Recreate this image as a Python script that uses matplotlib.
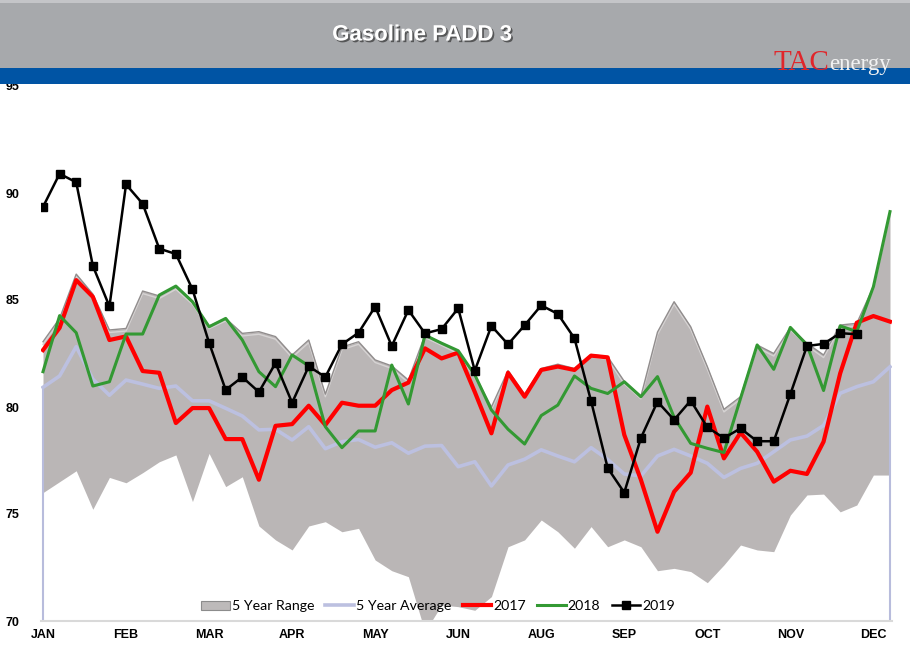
import numpy as np
import matplotlib
matplotlib.use("Agg")
import matplotlib.pyplot as plt
import matplotlib.patheffects as pe
from matplotlib.patches import Rectangle, Patch
from matplotlib.lines import Line2D

# weekly values, 52 weeks
range_hi = [83.05, 84.14, 86.21, 85.28, 83.6, 83.67, 85.42, 85.19, 85.62, 84.92,
            83.78, 84.14, 83.44, 83.52, 83.29, 82.43, 83.13, 80.6, 82.8, 83.05,
            82.2, 81.92, 81.26, 83.36, 83.0, 82.6, 81.5, 80.0, 81.7, 80.6,
            81.8, 82.0, 81.8, 82.45, 82.35, 81.2, 80.5, 83.5, 84.92, 83.75,
            81.89, 79.89, 80.48, 82.9, 82.5, 83.72, 82.98, 82.43, 83.83, 83.91,
            85.62, 89.13]
range_lo = [76.0, 76.51, 77.02, 75.22, 76.71, 76.46, 76.93, 77.44, 77.76, 75.58,
            77.83, 76.28, 76.74, 74.44, 73.79, 73.32, 74.44, 74.64, 74.17, 74.33,
            72.85, 72.35, 72.07, 69.5, 70.75, 70.67, 70.5, 71.14, 73.47, 73.79,
            74.72, 74.17, 73.4, 74.41, 73.47, 73.79, 73.47, 72.35, 72.46, 72.31,
            71.79, 72.62, 73.55, 73.32, 73.24, 74.95, 75.89, 75.93, 75.1, 75.42,
            76.82, 76.82]
avg5 = [80.92, 81.45, 82.82, 81.3, 80.55, 81.26, 81.07, 80.87, 80.98, 80.29,
        80.29, 79.94, 79.58, 78.93, 78.96, 78.46, 79.08, 78.05, 78.38, 78.48,
        78.12, 78.33, 77.84, 78.17, 78.2, 77.21, 77.44, 76.31, 77.29, 77.56,
        78.0, 77.71, 77.44, 78.1, 77.55, 76.87, 76.78, 77.71, 78.02, 77.71,
        77.37, 76.71, 77.13, 77.37, 77.91, 78.46, 78.64, 79.14, 80.64, 80.95,
        81.18, 81.88]
y2017 = [82.66, 83.7, 85.93, 85.15, 83.13, 83.3, 81.68, 81.6, 79.25, 79.95,
         79.95, 78.5, 78.5, 76.6, 79.12, 79.2, 80.06, 79.16, 80.2, 80.06,
         80.06, 80.79, 81.14, 82.74, 82.27, 82.54, 80.7, 78.77, 81.6, 80.48,
         81.73, 81.89, 81.73, 82.4, 82.32, 78.7, 76.6, 74.17, 76.04, 76.93,
         80.02, 77.6, 78.8, 77.91, 76.51, 77.02, 76.87, 78.38, 81.57, 83.94,
         84.25, 83.99]
y2018 = [81.65, 84.27, 83.47, 80.98, 81.18, 83.41, 83.41, 85.23, 85.65, 84.92,
         83.75, 84.14, 83.13, 81.65, 80.95, 82.43, 81.92, 79.08, 78.1, 78.88,
         78.88, 81.96, 80.14, 83.36, 82.98, 82.63, 81.5, 79.86, 78.96, 78.27,
         79.6, 80.09, 81.45, 80.87, 80.63, 81.18, 80.48, 81.42, 79.52, 78.3,
         78.07, 77.87, 80.4, 82.9, 81.76, 83.72, 82.9, 80.77, 83.79, 83.52,
         85.62, 89.13]
y2019 = [89.35, 90.9, 90.5, 86.6, 84.7, 90.4, 89.5, 87.4, 87.15, 85.5,
         83.0, 80.8, 81.4, 80.7, 82.05, 80.2, 81.9, 81.4, 82.93, 83.47,
         84.69, 82.85, 84.53, 83.44, 83.64, 84.61, 81.7, 83.79, 82.93, 83.82,
         84.75, 84.35, 83.21, 80.28, 77.15, 76.0, 78.55, 80.25, 79.4, 80.3,
         79.05, 78.55, 79.0, 78.4, 78.4, 80.6, 82.85, 82.95, 83.45, 83.4]
months = ["JAN", "FEB", "MAR", "APR", "MAY", "JUN", "AUG", "SEP", "OCT", "NOV", "DEC"]

W, H = 910, 659
fig = plt.figure(figsize=(W / 100, H / 100), dpi=100)
fig.patch.set_facecolor("white")

# header bands
fig.patches.append(Rectangle((0, 1 - 68 / H), 1, 68 / H, transform=fig.transFigure,
                             facecolor="#A7A9AC", edgecolor="none", zorder=0))
fig.patches.append(Rectangle((0, 1 - 3 / H), 1, 3 / H, transform=fig.transFigure,
                             facecolor="#C4C5C8", edgecolor="none", zorder=0))
fig.patches.append(Rectangle((0, 1 - 84 / H), 1, 16 / H, transform=fig.transFigure,
                             facecolor="#0054A4", edgecolor="none", zorder=0))
fig.text(422 / W, 1 - 35 / H, "Gasoline PADD 3", color="white", fontsize=16,
         fontweight="bold", family="Liberation Sans", ha="center", va="center",
         path_effects=[pe.withSimplePatchShadow(offset=(1.2, -1.2), shadow_rgbFace="#333333", alpha=0.7)])
fig.text(774 / W, 1 - 70 / H, "TAC", color="#E0262B", fontsize=21, family="Liberation Serif",
         ha="left", va="baseline")
fig.text(829 / W, 1 - 70 / H, "energy", color="#F2F2F2", fontsize=16.5, family="Liberation Serif",
         ha="left", va="baseline")

# main plot
x0 = -0.15
x1 = 51.15
px = 16.6
left = 43 - 0.15 * px
right = 890 + 0.15 * px
ax = fig.add_axes([left / W, 1 - 621 / H, (right - left) / W, 535 / H])
weeks = np.arange(52)

ax.fill_between(weeks, range_lo, range_hi, color="#BAB6B6", linewidth=0, zorder=1)
ax.plot(weeks, range_hi, color="#918D8D", lw=1.0, zorder=1.5)
ax.plot(weeks, np.array(range_hi) - 0.12, color="#D6D3D3", lw=1.0, zorder=1.4)
ax.vlines([weeks[0], weeks[-1]], 70, [avg5[0], avg5[-1]], color="#B8BCDC", lw=1.5, zorder=2)
ax.plot(weeks, avg5, color="#BCC0E0", lw=2.6, zorder=2)
ax.plot(weeks, y2017, color="#FF0000", lw=3.0, zorder=3)
ax.plot(weeks, y2018, color="#339933", lw=2.2, zorder=4)
ax.plot(np.arange(len(y2019)), y2019, color="black", lw=1.8, marker="s", ms=5.5, zorder=5)

ax.set_xlim(x0, x1)
ax.set_ylim(70, 95)
ax.set_yticks([70, 75, 80, 85, 90, 95])
ax.set_xticks(np.arange(0, 51, 5))
ax.set_xticklabels(months)
for s in ["top", "right", "left"]:
    ax.spines[s].set_visible(False)
ax.spines["bottom"].set_color("#D9D9D9")
ax.spines["bottom"].set_linewidth(1.5)
ax.tick_params(length=0)
ax.tick_params(axis="y", pad=15)
ax.tick_params(axis="x", pad=6)
for lab in ax.get_xticklabels() + ax.get_yticklabels():
    lab.set_fontfamily("Liberation Sans")
    lab.set_fontweight("bold")
    lab.set_fontsize(9)

handles = [Patch(facecolor="#BDBABA", edgecolor="#8C8C8C", lw=0.8),
           Line2D([], [], color="#BCC0E0", lw=2.6),
           Line2D([], [], color="#FF0000", lw=3.0),
           Line2D([], [], color="#339933", lw=2.2),
           Line2D([], [], color="black", lw=1.8, marker="s", ms=5.5)]
labels = ["5 Year Range", "5 Year Average", "2017", "2018", "2019"]
leg = ax.legend(handles, labels, ncol=5, frameon=False, loc="center",
                bbox_to_anchor=((438 - left) / (right - left), (621 - 606) / 535),
                prop={"family": "Lato", "size": 10.2}, handlelength=2.0,
                handleheight=0.6, handletextpad=0.15, columnspacing=0.8,
                borderpad=0, borderaxespad=0)

fig.savefig("out.png", dpi=100)
